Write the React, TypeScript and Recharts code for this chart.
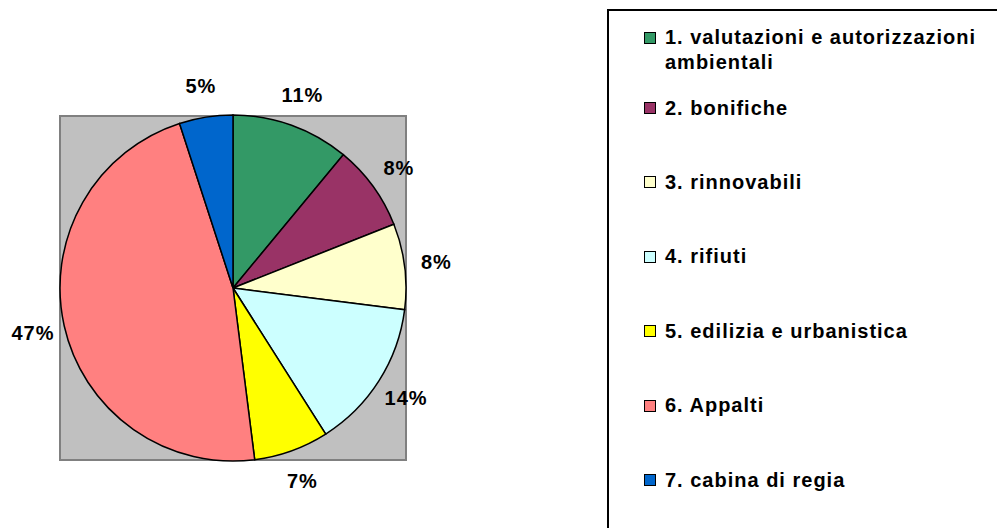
import React from "react";
import { Cell, Pie, PieChart } from "recharts";

// ─── Data ────────────────────────────────────────────────────

const categories = [
  "1. valutazioni e autorizzazioni ambientali",
  "2. bonifiche",
  "3. rinnovabili",
  "4. rifiuti",
  "5. edilizia e urbanistica",
  "6. Appalti",
  "7. cabina di regia",
];
const shares = [11, 8, 8, 14, 7, 47, 5];
const colors = ["#339966", "#993366", "#FFFFCC", "#CCFFFF", "#FFFF00", "#FF8080", "#0066CC"];

const data = categories.map((name, i) => ({ name, value: shares[i] }));
const total = shares.reduce((a, b) => a + b, 0);

const FONT = '"Liberation Sans", Arial, sans-serif';
const RAD = Math.PI / 180;

// ─── Slice labels ────────────────────────────────────────────

function SliceLabel(props: any) {
  const { cx, cy, midAngle, outerRadius, value } = props;
  const r = outerRadius + 32;
  const x = cx + r * Math.cos(-midAngle * RAD);
  const y = cy + r * Math.sin(-midAngle * RAD);
  return (
    <text
      x={x}
      y={y}
      textAnchor="middle"
      dominantBaseline="central"
      fill="#000"
      fontFamily={FONT}
      fontWeight="bold"
      fontSize={20}
      letterSpacing={1}
    >
      {`${Math.round((value / total) * 100)}%`}
    </text>
  );
}

// ─── Legend ──────────────────────────────────────────────────

function BoxLegend() {
  return (
    <div
      style={{
        position: "absolute",
        left: 607,
        top: 9,
        width: 400,
        height: 540,
        border: "2px solid #000",
        boxSizing: "border-box",
        fontFamily: FONT,
        fontWeight: "bold",
        fontSize: 20,
        letterSpacing: 1,
        color: "#000",
      }}
    >
      {categories.map((name, i) => (
        <div
          key={name}
          style={{
            position: "relative",
            height: i === 0 ? 60 : 74.4,
            paddingLeft: 56,
            paddingTop: i === 0 ? 14 : 0,
            display: "flex",
            alignItems: i === 0 ? "flex-start" : "center",
            lineHeight: "25px",
            boxSizing: "border-box",
            width: 385,
          }}
        >
          <span
            style={{
              position: "absolute",
              left: 35,
              top: i === 0 ? 21 : 31,
              width: 10,
              height: 10,
              background: colors[i],
              border: "1px solid #000",
            }}
          />
          <span>{name}</span>
        </div>
      ))}
    </div>
  );
}

// ─── Chart ───────────────────────────────────────────────────

export default function App() {
  return (
    <div style={{ position: "fixed", left: 0, top: 0, width: 997, height: 528, background: "#fff", overflow: "hidden" }}>
      <div
        style={{
          position: "absolute",
          left: 59,
          top: 115,
          width: 348,
          height: 346,
          background: "#C0C0C0",
          border: "2px solid #808080",
          boxSizing: "border-box",
        }}
      />
      <div style={{ position: "absolute", left: 0, top: 0 }}>
        <PieChart width={600} height={528} margin={{ top: 0, right: 0, bottom: 0, left: 0 }}>
          <Pie
            data={data}
            dataKey="value"
            nameKey="name"
            cx={233}
            cy={288}
            outerRadius={173}
            startAngle={90}
            endAngle={-270}
            stroke="#000"
            strokeWidth={1.5}
            label={SliceLabel}
            labelLine={false}
            isAnimationActive={false}
          >
            {data.map((d, i) => (
              <Cell key={d.name} fill={colors[i]} />
            ))}
          </Pie>
        </PieChart>
      </div>
      <BoxLegend />
    </div>
  );
}
